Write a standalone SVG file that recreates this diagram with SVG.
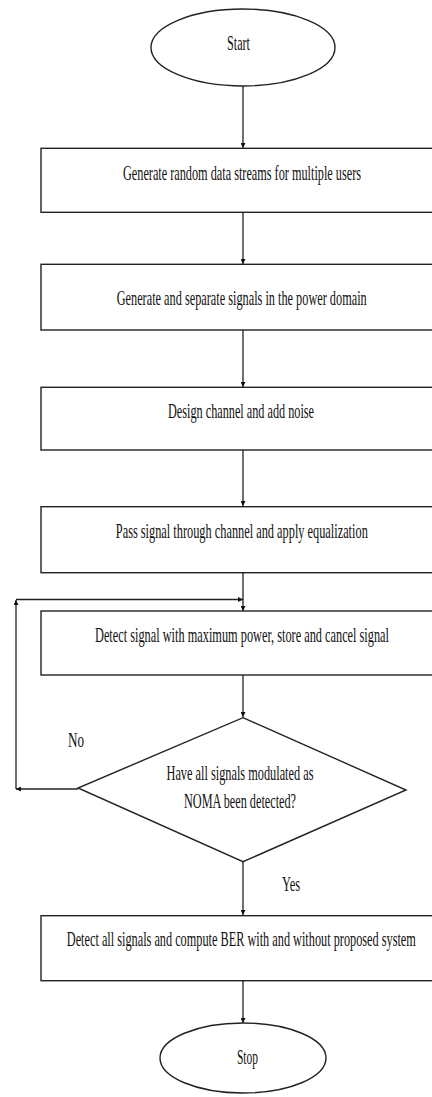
<svg xmlns="http://www.w3.org/2000/svg" width="432" height="1097" viewBox="0 0 432 1097">
<style>
.s{fill:#fff;stroke:#222;stroke-width:1.4}
.t{font-family:"Liberation Serif","Times New Roman",serif;font-size:21px;fill:#111;text-anchor:middle}
.c{fill:none;stroke:#222;stroke-width:1.3}
</style>
<defs>
<marker id="ah" viewBox="0 0 10 10" refX="10" refY="5" markerWidth="5" markerHeight="5" markerUnits="userSpaceOnUse" orient="auto">
<path d="M0,0 L10,5 L0,10 z" fill="#111"/>
</marker>
</defs>
<rect width="432" height="1097" fill="#fff"/>
<g id="connectors">
<line class="c" x1="243" y1="86" x2="243" y2="148" marker-end="url(#ah)"/>
<line class="c" x1="243" y1="212" x2="243" y2="264" marker-end="url(#ah)"/>
<line class="c" x1="243" y1="330" x2="243" y2="387" marker-end="url(#ah)"/>
<line class="c" x1="243" y1="450" x2="243" y2="506" marker-end="url(#ah)"/>
<line class="c" x1="243" y1="573" x2="243" y2="611" marker-end="url(#ah)"/>
<line class="c" x1="243" y1="675" x2="243" y2="717" marker-end="url(#ah)"/>
<line class="c" x1="243" y1="862" x2="243" y2="915" marker-end="url(#ah)"/>
<line class="c" x1="243" y1="981" x2="243" y2="1023" marker-end="url(#ah)"/>
<line class="c" x1="78" y1="789" x2="16" y2="789" marker-end="url(#ah)"/>
<line class="c" x1="16" y1="789" x2="16" y2="600" marker-end="url(#ah)"/>
<line class="c" x1="16" y1="599.5" x2="243" y2="599.5" marker-end="url(#ah)"/>
<text class="t" transform="translate(76,747) scale(0.6,1)" textLength="26.7" lengthAdjust="spacingAndGlyphs">No</text>
<text class="t" transform="translate(291,891) scale(0.6,1)" textLength="30" lengthAdjust="spacingAndGlyphs">Yes</text>
</g>
<g id="start">
<ellipse class="s" cx="243" cy="47.5" rx="92" ry="38.5"/>
<text class="t" transform="translate(238.5,50) scale(0.6,1)" textLength="38.3" lengthAdjust="spacingAndGlyphs">Start</text>
</g>
<g id="step1">
<rect class="s" x="41" y="148.3" width="400" height="64"/>
<text class="t" transform="translate(242,180) scale(0.6,1)" textLength="396.7" lengthAdjust="spacingAndGlyphs">Generate random data streams for multiple users</text>
</g>
<g id="step2">
<rect class="s" x="41" y="264.3" width="400" height="65.7"/>
<text class="t" transform="translate(241.7,305) scale(0.6,1)" textLength="416.7" lengthAdjust="spacingAndGlyphs">Generate and separate signals in the power domain</text>
</g>
<g id="step3">
<rect class="s" x="41" y="387.3" width="400" height="62.7"/>
<text class="t" transform="translate(241,418) scale(0.6,1)" textLength="243.3" lengthAdjust="spacingAndGlyphs">Design channel and add noise</text>
</g>
<g id="step4">
<rect class="s" x="41" y="506.7" width="400" height="66"/>
<text class="t" transform="translate(241.8,538) scale(0.6,1)" textLength="420" lengthAdjust="spacingAndGlyphs">Pass signal through channel and apply equalization</text>
</g>
<g id="step5">
<rect class="s" x="41" y="611" width="400" height="64"/>
<text class="t" transform="translate(242,642) scale(0.6,1)" textLength="490" lengthAdjust="spacingAndGlyphs">Detect signal with maximum power, store and cancel signal</text>
</g>
<g id="decision">
<polygon class="s" points="243,717.7 406,790 243,861.7 78,788"/>
<text class="t" transform="translate(240,780) scale(0.6,1)" textLength="245" lengthAdjust="spacingAndGlyphs">Have all signals modulated as</text>
<text class="t" transform="translate(240,808) scale(0.6,1)" textLength="186.7" lengthAdjust="spacingAndGlyphs">NOMA been detected?</text>
</g>
<g id="step6">
<rect class="s" x="41" y="915.7" width="400" height="65"/>
<text class="t" transform="translate(241.3,946) scale(0.6,1)" textLength="581.7" lengthAdjust="spacingAndGlyphs">Detect all signals and compute BER with and without proposed system</text>
</g>
<g id="stop">
<ellipse class="s" cx="243" cy="1058" rx="83" ry="35"/>
<text class="t" transform="translate(247.5,1064) scale(0.6,1)" textLength="35" lengthAdjust="spacingAndGlyphs">Stop</text>
</g>
</svg>
